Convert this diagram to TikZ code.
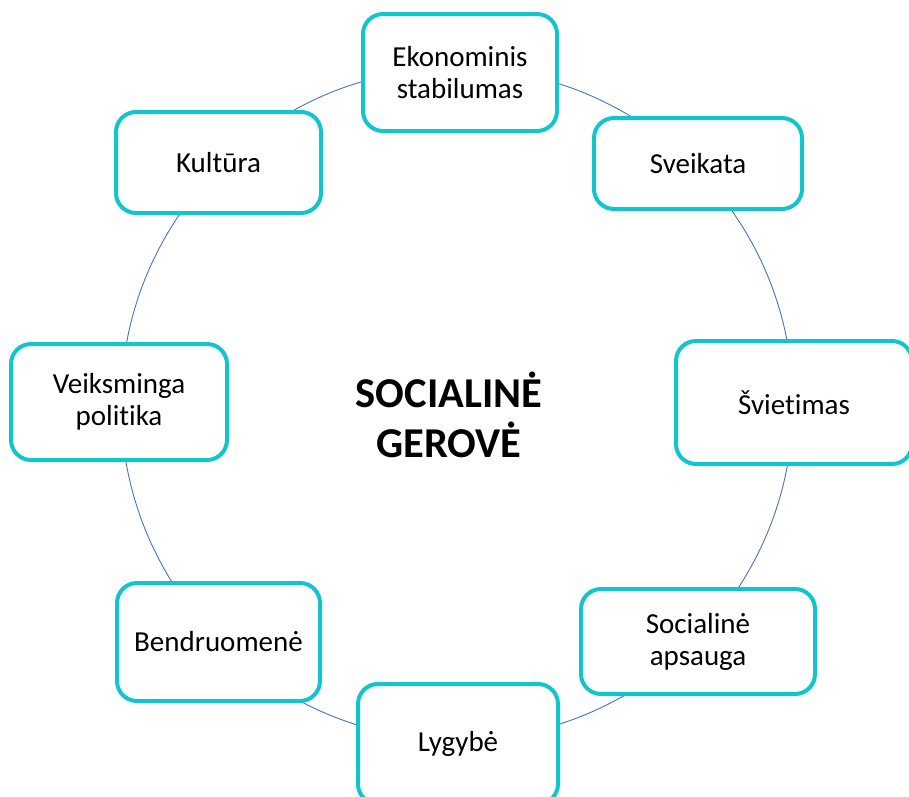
\documentclass[tikz,border=0pt]{standalone}
\usepackage{fontspec}
\setmainfont[RawFeature={-liga;-clig;-calt;-dlig;-rlig}]{Carlito}
\definecolor{boxteal}{RGB}{18,196,204}
\definecolor{ringblue}{RGB}{68,114,196}
\begin{document}
\begin{tikzpicture}[x=1pt,y=-1pt,
  itembox/.style={draw=boxteal, line width=4pt, fill=white, rounded corners=20pt,
    align=center, font=\fontsize{29}{32}\selectfont, inner sep=0pt},
  ring/.style={draw=ringblue, line width=0.9pt},
  title/.style={align=center, font=\fontsize{42.5}{50}\selectfont\bfseries}]
\clip (0,0) rectangle (909,796);
\useasboundingbox (0,0) rectangle (909,796);
\coordinate (c) at (457,404);
\draw[ring] (c) circle[radius=336];
\node[title] (t) at (449,415) {SOCIALINĖ\\GEROVĖ};
\node[itembox, minimum width=194pt, minimum height=117pt] (eko) at (460,72.5) {Ekonominis\\stabilumas};
\node[itembox, minimum width=208pt, minimum height=91pt] (sve) at (698,163.5) {Sveikata};
\node[itembox, minimum width=205pt, minimum height=101pt] (kul) at (218.5,162.5) {Kultūra};
\node[itembox, minimum width=236pt, minimum height=123pt] (svi) at (794,402.5) {Šviet\kern0pt imas};
\node[itembox, minimum width=216pt, minimum height=116pt] (vei) at (119,402) {Veiksminga\\polit\kern0pt ika};
\node[itembox, minimum width=234pt, minimum height=105pt] (soc) at (698,641.5) {Socialinė\\apsauga};
\node[itembox, minimum width=203pt, minimum height=118pt] (ben) at (218.5,642) {Bendruomenė};
\node[itembox, minimum width=200pt, minimum height=120pt] (lyg) at (458,744) {Lygybė};
\end{tikzpicture}
\end{document}
